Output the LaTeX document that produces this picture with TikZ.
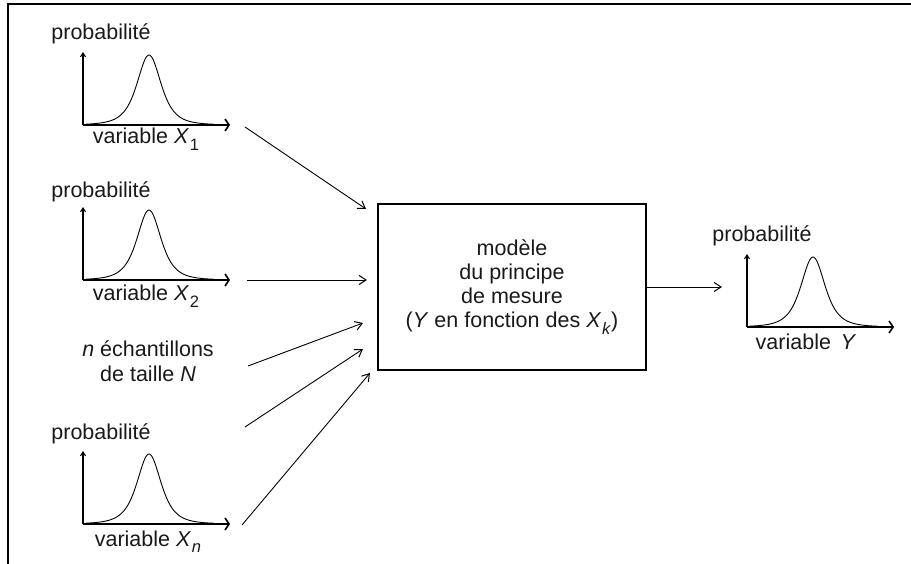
\documentclass[tikz,border=0pt]{standalone}
\usepackage{fontspec}
\setmainfont{Liberation Sans}
\usetikzlibrary{arrows.meta}
\newcommand\mysub[1]{\kern0.04em\raisebox{-0.32em}{\fontsize{16.5}{16.5}\selectfont #1}}
\begin{document}
\begin{tikzpicture}[x=1pt,y=-1pt,
  lbl/.style={font=\fontsize{21.5}{24.5}\selectfont, inner sep=0pt, text=black!90},
  axisline/.style={line width=1.1pt},
  xarr/.style={-{Straight Barb[length=4pt,width=12pt,line width=1.6pt]}},
  yarr/.style={-{Straight Barb[length=4pt,width=5pt,line width=1pt]}},
  curve/.style={line width=0.9pt},
  conn/.style={line width=0.9pt,-{Straight Barb[length=7pt,width=9pt,line width=1pt]}},
  boxstyle/.style={draw, line width=1.1pt, minimum width=268pt, minimum height=166pt,
    align=center, font=\fontsize{21.5}{24.3}\selectfont, inner sep=0pt, text=black!90},
  distr/.pic={
    \draw[axisline,yarr] (0,0) -- (0,-73);
    \draw[axisline,xarr] (0,0) -- (147,0);
    \draw[curve] plot[domain=-63:65,samples=140,smooth] ({66+\x},{-70/(1+(\x/22)^2)^2});
  }]
\useasboundingbox (0,0) rectangle (911,564);
% frame
\draw[line width=1.8pt] (911,4) -- (8,4) -- (8,564);

% distribution plots
\pic at (83,125) {distr};
\pic at (83,280) {distr};
\pic at (83,524) {distr};
\pic at (747,327) {distr};

% labels
\node[lbl,anchor=base] (p1) at (101,40) {probabilité};
\node[lbl,anchor=base] (v1) at (146,144) {variable \textit{X}\mysub{1}};
\node[lbl,anchor=base] (p2) at (101,198) {probabilité};
\node[lbl,anchor=base] (v2) at (146,301) {variable \textit{X}\mysub{2}};
\node[lbl,align=center] (ech) at (148,361) {\textit{n} échantillons\\de taille \textit{N}};
\node[lbl,anchor=base] (pn) at (101,439) {probabilité};
\node[lbl,anchor=base] (vn) at (148,546) {variable \textit{X}\mysub{\textit{n}}};
\node[lbl,anchor=base] (pY) at (762,242) {probabilité};
\node[lbl,anchor=base] (vY) at (806,349) {variable\hspace{0.45em}\textit{Y}};

% model box
\node[boxstyle] (box) at (512,287) {modèle\\du principe\\de mesure\\(\textit{Y} en fonction des \textit{X}\mysub{\textit{k}})};

% connector ends
\coordinate (s1) at (245,127);
\coordinate (t1) at (366,209);
\coordinate (s2) at (247,280);
\coordinate (t2) at (367,280);
\coordinate (s3) at (248,366);
\coordinate (t3) at (363,323);
\coordinate (s4) at (245,427);
\coordinate (t4) at (363,349);
\coordinate (s5) at (242,525);
\coordinate (t5) at (370,373);
\coordinate (tY) at (722,287);

\draw[conn] (s1) -- (t1);
\draw[conn] (s2) -- (t2);
\draw[conn] (s3) -- (t3);
\draw[conn] (s4) -- (t4);
\draw[conn] (s5) -- (t5);
\draw[conn] (box.east) -- (tY);
\end{tikzpicture}
\end{document}
